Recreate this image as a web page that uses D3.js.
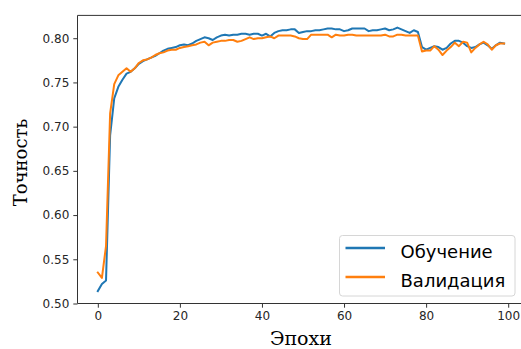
<!DOCTYPE html>
<html><head><meta charset="utf-8">
<script src="https://cdn.jsdelivr.net/npm/d3@7"></script>
<style>body{margin:0;background:#fff}svg{display:block}</style>
</head><body><div id="chart"></div>
<script>
const epochs = d3.range(0, 100);
const train = [0.514,0.522,0.526,0.690,0.732,0.745,0.753,0.760,0.762,0.766,
0.771,0.774,0.776,0.778,0.780,0.783,0.786,0.788,0.789,0.790,
0.792,0.793,0.792,0.794,0.797,0.799,0.801,0.800,0.798,0.801,
0.803,0.804,0.803,0.804,0.804,0.805,0.805,0.804,0.805,0.805,
0.803,0.805,0.802,0.806,0.808,0.809,0.809,0.810,0.810,0.806,
0.807,0.808,0.808,0.809,0.809,0.810,0.811,0.811,0.810,0.810,
0.808,0.809,0.811,0.811,0.811,0.811,0.808,0.809,0.809,0.810,
0.811,0.809,0.810,0.812,0.810,0.808,0.806,0.809,0.807,0.790,
0.787,0.789,0.791,0.790,0.787,0.789,0.794,0.797,0.797,0.795,
0.791,0.789,0.790,0.793,0.795,0.792,0.788,0.792,0.795,0.794];
const valid = [0.535,0.529,0.565,0.715,0.748,0.758,0.762,0.766,0.762,0.766,
0.772,0.775,0.776,0.778,0.781,0.783,0.784,0.786,0.787,0.787,
0.789,0.790,0.791,0.792,0.793,0.795,0.796,0.792,0.795,0.796,
0.797,0.797,0.798,0.798,0.796,0.797,0.799,0.801,0.799,0.800,
0.800,0.801,0.802,0.800,0.803,0.803,0.803,0.803,0.802,0.800,
0.799,0.799,0.804,0.804,0.804,0.804,0.804,0.801,0.804,0.803,
0.803,0.804,0.804,0.803,0.803,0.803,0.803,0.803,0.803,0.803,
0.804,0.802,0.802,0.804,0.804,0.803,0.803,0.803,0.803,0.785,
0.786,0.786,0.791,0.787,0.781,0.786,0.790,0.795,0.791,0.796,
0.795,0.784,0.789,0.793,0.796,0.793,0.787,0.792,0.794,0.794];
const xTicks = [0, 20, 40, 60, 80, 100];
const yTicks = [0.50, 0.55, 0.60, 0.65, 0.70, 0.75, 0.80];
const seriesNames = ["Обучение", "Валидация"];
const colors = ["#1f77b4", "#ff7f0e"];
const xLabel = "Эпохи", yLabel = "Точность";

const W = 521, H = 349;
const L = 77.5, R = 524.4, T = 15.4, B = 303.5;
const svg = d3.select("#chart").append("svg").attr("width", W).attr("height", H);

const x = d3.scaleLinear().domain([-4.95, 103.95]).range([L, R]);
const y = d3.scaleLinear().domain([0.500, 0.8258]).range([B, T]);

const tickFont = "DejaVu Sans, sans-serif";
const xAxis = svg.append("g").attr("transform", `translate(0,${B})`)
  .call(d3.axisBottom(x).tickValues(xTicks).tickFormat(d3.format("d")).tickSizeOuter(0).tickSize(4.2).tickPadding(4));
const yAxis = svg.append("g").attr("transform", `translate(${L},0)`)
  .call(d3.axisLeft(y).tickValues(yTicks).tickFormat(d3.format(".2f")).tickSizeOuter(0).tickSize(4.2).tickPadding(4));
[xAxis, yAxis].forEach(g => {
  g.select(".domain").remove();
  g.selectAll(".tick line").attr("stroke", "#333").attr("stroke-width", 1);
  g.selectAll(".tick text").attr("fill", "#262626").style("font-family", tickFont).style("font-size", "12px");
});

// spines
const frame = svg.append("g").attr("fill", "none").attr("stroke", "#333").attr("stroke-width", 1);
frame.append("line").attr("x1", L).attr("x2", L).attr("y1", T).attr("y2", B);
frame.append("line").attr("x1", L).attr("x2", R).attr("y1", B).attr("y2", B);
frame.append("line").attr("x1", L).attr("x2", R).attr("y1", T).attr("y2", T);
frame.append("line").attr("x1", R).attr("x2", R).attr("y1", T).attr("y2", B);

const line = d3.line().x((d, i) => x(epochs[i])).y(d => y(d));
[train, valid].forEach((s, k) => {
  svg.append("path").datum(s).attr("d", line).attr("fill", "none")
    .attr("stroke", colors[k]).attr("stroke-width", 2).attr("stroke-linejoin", "round").attr("stroke-linecap", "square");
});

// axis labels
svg.append("text").attr("x", (L + R) / 2).attr("y", 345).attr("text-anchor", "middle")
  .style("font-family", "DejaVu Serif, serif").style("font-size", "19px").attr("fill", "#000").text(xLabel);
svg.append("text").attr("transform", `translate(27,${(T + B) / 2 + 3}) rotate(-90)`).attr("text-anchor", "middle")
  .style("font-family", "DejaVu Serif, serif").style("font-size", "18px").attr("fill", "#000").text(yLabel);

// legend
const lg = svg.append("g");
lg.append("rect").attr("x", 339.5).attr("y", 235.5).attr("width", 175.5).attr("height", 60.5).attr("rx", 3)
  .attr("fill", "#fff").attr("fill-opacity", 0.8).attr("stroke", "#d6d6d6").attr("stroke-width", 1);
seriesNames.forEach((n, k) => {
  const yy = 248 + k * 29;
  lg.append("line").attr("x1", 345.5).attr("x2", 385).attr("y1", yy).attr("y2", yy)
    .attr("stroke", colors[k]).attr("stroke-width", 2.5);
  lg.append("text").attr("x", 400.5).attr("y", yy + 9.5).style("font-family", tickFont).style("font-size", "18px")
    .attr("fill", "#000").text(n);
});
</script></body></html>
